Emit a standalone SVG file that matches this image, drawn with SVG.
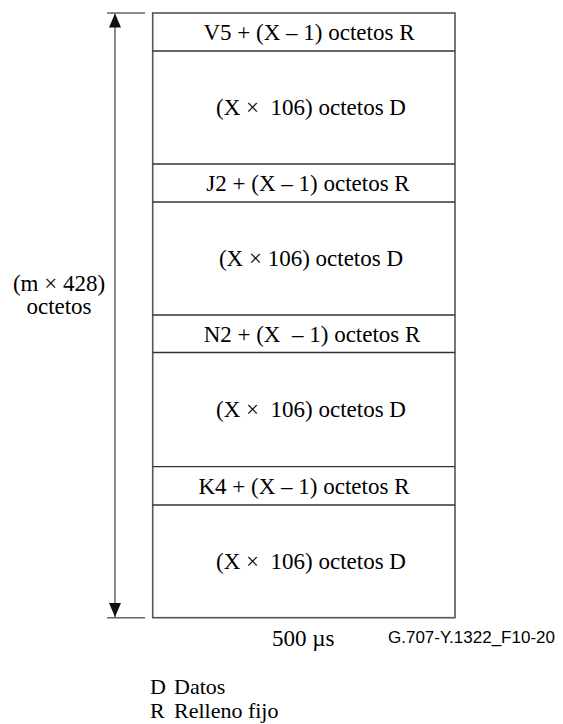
<svg xmlns="http://www.w3.org/2000/svg" width="563" height="724" viewBox="0 0 563 724">
<style>
.t{font-family:"Liberation Serif","Times New Roman",serif;font-size:23px;fill:#000;text-anchor:middle}
.s{font-family:"Liberation Sans",Arial,sans-serif;font-size:17px;fill:#000}
.l{font-family:"Liberation Serif","Times New Roman",serif;font-size:22px;fill:#000}
.u{font-family:"Liberation Serif","Times New Roman",serif;font-size:23px;fill:#000}
.box{fill:#fff;stroke:#555;stroke-width:1.6}
.row{stroke:#333;stroke-width:1.3}
.dim{stroke:#666;stroke-width:1.5;fill:none}
</style>
<defs>
<marker id="ah" viewBox="0 0 14 12" refX="14" refY="6" markerWidth="14" markerHeight="12" markerUnits="userSpaceOnUse" orient="auto">
<path d="M0,0 L14,6 L0,12 Z" fill="#111"/>
</marker>
</defs>
<g id="frame">
<rect class="box" x="152.7" y="13" width="302.3" height="604.7"/>
</g>
<g id="rows">
<line class="row" x1="152.7" y1="51" x2="455" y2="51"/>
<line class="row" x1="152.7" y1="164" x2="455" y2="164"/>
<line class="row" x1="152.7" y1="202" x2="455" y2="202"/>
<line class="row" x1="152.7" y1="315" x2="455" y2="315"/>
<line class="row" x1="152.7" y1="352.5" x2="455" y2="352.5"/>
<line class="row" x1="152.7" y1="466.7" x2="455" y2="466.7"/>
<line class="row" x1="152.7" y1="505" x2="455" y2="505"/>
</g>
<g id="r1"><text class="t" x="309" y="40">V5 + (X – 1) octetos R</text></g>
<g id="d1"><text class="t" x="311" y="115">(X ×&#160; 106) octetos D</text></g>
<g id="r2"><text class="t" x="308" y="191">J2 + (X – 1) octetos R</text></g>
<g id="d2"><text class="t" x="311" y="266">(X × 106) octetos D</text></g>
<g id="r3"><text class="t" x="312" y="342">N2 + (X&#160; – 1) octetos R</text></g>
<g id="d3"><text class="t" x="311" y="417">(X ×&#160; 106) octetos D</text></g>
<g id="r4"><text class="t" x="304" y="494">K4 + (X – 1) octetos R</text></g>
<g id="d4"><text class="t" x="311" y="569">(X ×&#160; 106) octetos D</text></g>
<g id="connectors">
<line class="dim" x1="107" y1="13" x2="145" y2="13"/>
<line class="dim" x1="107" y1="617.7" x2="145" y2="617.7"/>
<line class="dim" x1="115" y1="315" x2="115" y2="13.5" marker-end="url(#ah)"/>
<line class="dim" x1="115" y1="315" x2="115" y2="617" marker-end="url(#ah)"/>
</g>
<g id="height-label">
<text class="t" x="59" y="291">(m × 428)</text>
<text class="t" x="59" y="314">octetos</text>
</g>
<g id="width-label"><text class="u" x="272" y="646">500 µs</text></g>
<g id="ref"><text class="s" x="388" y="643">G.707-Y.1322_F10-20</text></g>
<g id="legend">
<text class="l" x="150" y="694">D</text><text class="l" x="174" y="694">Datos</text>
<text class="l" x="150" y="718">R</text><text class="l" x="174" y="718">Relleno fijo</text>
</g>
</svg>
